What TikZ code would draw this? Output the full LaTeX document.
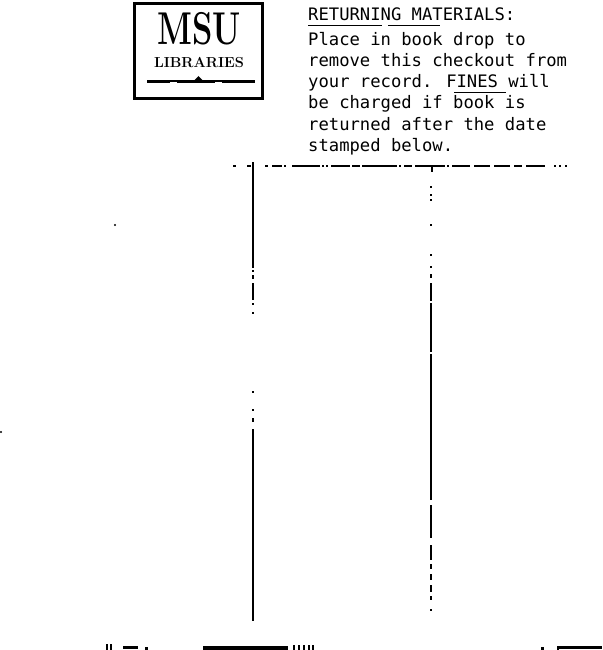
\documentclass[tikz,border=0pt]{standalone}
\usepackage{fontspec}
\usepackage{graphicx}
\newfontfamily\typefont{DejaVu Sans Mono}

\begin{document}
\begin{tikzpicture}[x=1pt,y=-1pt]
\tikzset{typeline/.style={anchor=base west, inner sep=0pt, font=\typefont\fontsize{17.2}{21}\selectfont}}
\useasboundingbox (0,0) rectangle (602,650);
% logo box
\draw [line width=3pt] (134.5,3.5) rectangle (262.5,99);
\node (msu) [anchor=base, inner sep=0pt] at (199,45) {\fontsize{46}{46}\selectfont\bfseries\scalebox{0.71}[1]{MSU}};
\node (lib) [anchor=base, inner sep=0pt] at (199,68) {\fontsize{14.5}{14.5}\selectfont\bfseries\scalebox{1.0}[1]{LIBRARIES}};
\fill (147,80.5) rectangle (255,83.5);
\fill (194,80.6) -- (198.5,76) -- (203,80.6) -- cycle;
\fill [white] (170,81.6) rectangle (177,82.4);
\fill [white] (215,81.6) rectangle (222,82.4);
% notice
\node (l1) [typeline] at (308,21) {RETURNING MATERIALS:};
\node (l2) [typeline] at (308,46) {Place in book drop to};
\node (l3) [typeline] at (308,67) {remove this checkout from};
\node (l4) [typeline] at (308,88) {your record.  FINES will};
\node (l5) [typeline] at (308,109) {be charged if book is};
\node (l6) [typeline] at (308,130) {returned after the date};
\node (l7) [typeline] at (308,151) {stamped below.};
\draw [line width=1pt] (308,26) -- (382,26);
\draw [line width=1pt] (388,26) -- (440,26);
\draw [line width=1pt] (454,92.5) -- (506,92.5);
% ruled lines
\foreach \a/\b in {233/236, 247/251, 265/268, 272/282, 284/286, 292/320, 322/324, 326/328, 331/350, 352/360, 362/397, 399/401, 404/412, 415/445, 447/449, 452/470, 474/490, 494/510, 514/522, 526/545, 554/556, 559/561, 565/567}
  \draw [line width=1.5pt] (\a,166) -- (\b,166);
\draw [line width=2pt] (432,166) -- (432,172);
\foreach \a/\b in {162/268, 270/272, 275/279, 283/300, 303/305, 312/314, 391/393, 409/411, 418/422, 429/621}
  \draw [line width=2pt] (253,\a) -- (253,\b);
\foreach \a/\b in {186/188, 194/196, 199/201, 224/226, 254/256, 266/268, 274/278, 283/301, 303/352, 354/500, 505/538, 545/560, 564/569, 574/580, 585/592, 596/600, 609/611}
  \draw [line width=1.7pt] (431,\a) -- (431,\b);
% specks
\fill (115,225) circle (1.2);
\fill (1,432) circle (1.2);
% bottom edge marks
\fill (106,644) rectangle (107.5,650);
\fill (110,644) rectangle (111.5,650);
\fill (123,646) rectangle (138,648.5);
\fill (145,647) rectangle (148,650);
\fill (203,646) rectangle (288,650);
\foreach \x in {293,298,303,308,312}
  \fill (\x,645) rectangle (\x+2,650);
\fill (541,647) rectangle (543.5,650);
\fill (557,646) rectangle (602,648.5);
\fill (557,646) rectangle (559,650);
\end{tikzpicture}
\end{document}
